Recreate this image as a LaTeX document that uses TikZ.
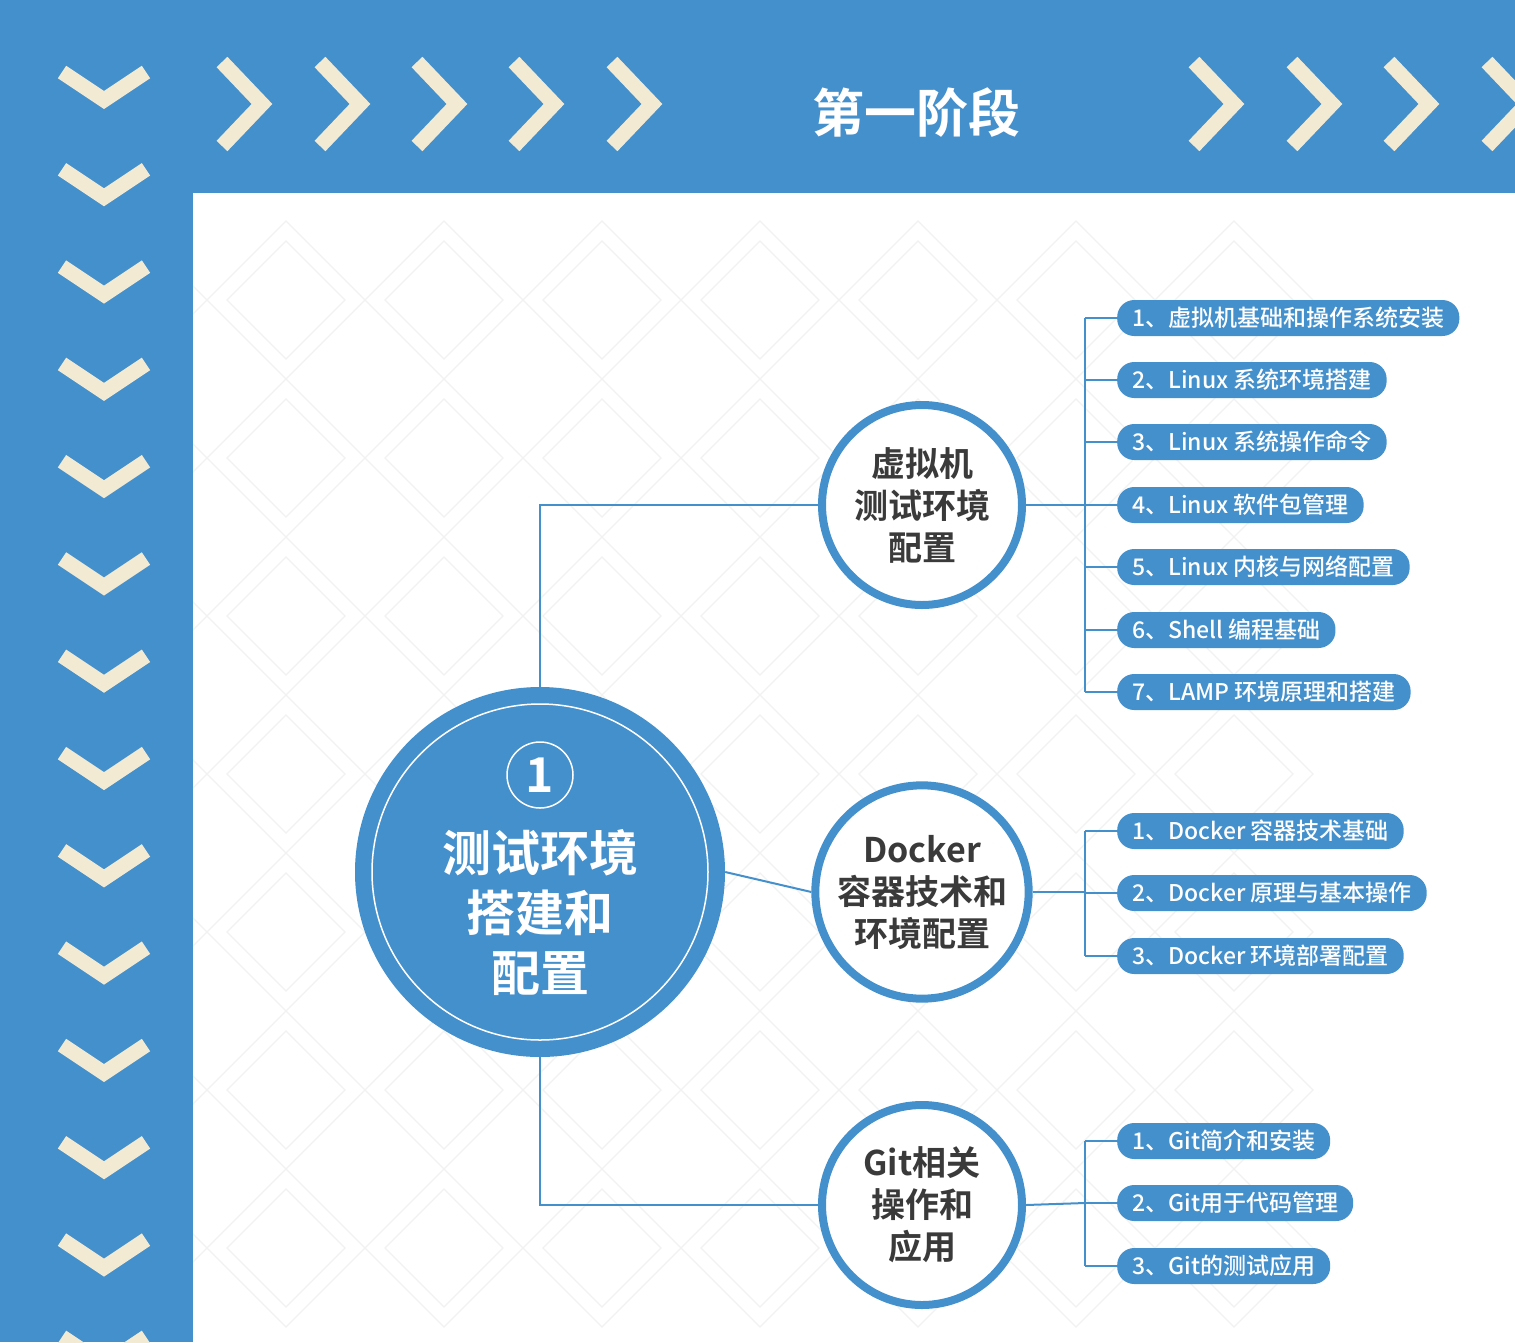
\documentclass[tikz,border=0pt]{standalone}
\usepackage{fontspec}
\setmainfont{Noto Sans CJK SC}
\newfontfamily\cjkb{Noto Sans CJK SC Bold}
\newfontfamily\cjkm{Noto Sans CJK SC Medium}
\definecolor{mblue}{HTML}{4490CC}
\definecolor{cream}{HTML}{F3EAD3}
\definecolor{dgray}{HTML}{3A3A3A}
\begin{document}
\begin{tikzpicture}[x=1pt,y=-1pt,
  chev/.style={cream,line width=15pt,line cap=butt,line join=miter},
  sub/.style={circle,draw=mblue,line width=8pt,fill=white,minimum size=200pt,align=center,text=dgray,font=\cjkb\fontsize{34}{42}\selectfont},
  pill/.style={rounded corners=17pt,fill=mblue,text=white,minimum height=36pt,anchor=west,inner xsep=15pt,font=\cjkm\fontsize{23}{26}\selectfont},
  conn/.style={mblue,line width=2pt}]
\useasboundingbox (0,0) rectangle (1515,1342);
\fill[mblue] (0,0) rectangle (1515,1342);
\fill[white] (193,193) rectangle (1515,1342);
% faint pattern
\begin{scope}
\clip (193,193) rectangle (1515,1342);
\foreach \i in {0,...,7}{\foreach \j in {0,...,6}{
  \draw[black!5,line width=1.2pt] ({128+\i*158},{221+\j*158}) -- ++(79,79) -- ++(-79,79) -- ++(-79,-79) -- cycle;
  \draw[black!5,line width=1.2pt] ({128+\i*158},{241+\j*158}) -- ++(59,59) -- ++(-59,59) -- ++(-59,-59) -- cycle;
}}
\end{scope}
% left chevrons
\foreach \k in {0,...,13}{
  \draw[chev] (62,{72+\k*97.3}) -- (104,{100+\k*97.3}) -- (146,{72+\k*97.3});
}
% top chevrons
\foreach \x in {222,320,417,514,612,1194,1292,1389,1487}{
  \draw[chev] (\x,62) -- (\x+40,104) -- (\x,146);
}
\node[text=white,font=\cjkb\fontsize{52}{60}\selectfont] (title) at (916,113) {第一阶段};
% central
\node[circle,fill=mblue,minimum size=370pt] (c) at (540,872) {};
\draw[white,line width=1.5pt] (c.center) circle (168);
\node[circle,draw=white,line width=1.5pt,minimum size=66pt,text=white,font=\cjkb\fontsize{48}{50}\selectfont,inner sep=0pt] (one) at (540,775) {1};
\node[text=white,align=center,font=\cjkb\fontsize{49}{60}\selectfont] (ct) at (540,913) {测试环境\\搭建和\\配置};
% subs
\node[sub] (s1) at (922,505) {虚拟机\\测试环境\\配置};
\node[sub] (s2) at (922,892) {Docker\\容器技术和\\环境配置};
\node[sub] (s3) at (922,1205) {Git相关\\操作和\\应用};
\draw[conn] (c.north) |- (s1.west);
\draw[conn] (c.east) -- (s2.west);
\draw[conn] (c.south) |- (s3.west);
% pills
\newcommand{\grp}[4]{%
  \coordinate (#1j) at (1085,#2);
  \draw[conn] (#1.east) -- (#1j);
  \foreach \y/\t [count=\n] in {#3}{
    \node[pill] (#1p\n) at (1117,\y) {\t};
    \draw[conn] (1085,\y) -- (#1p\n.west);
  }
  \draw[conn] (1085,#4) -- (#1j);
}
\grp{s1}{505}{318/{1、虚拟机基础和操作系统安装},380/{2、Linux 系统环境搭建},442/{3、Linux 系统操作命令},505/{4、Linux 软件包管理},567/{5、Linux 内核与网络配置},630/{6、Shell 编程基础},692/{7、LAMP 环境原理和搭建}}{318}
\draw[conn] (1085,318) -- (1085,692);
\grp{s2}{892}{831/{1、Docker 容器技术基础},893/{2、Docker 原理与基本操作},956/{3、Docker 环境部署配置}}{831}
\draw[conn] (1085,831) -- (1085,956);
\grp{s3}{1203}{1141/{1、Git简介和安装},1203/{2、Git用于代码管理},1266/{3、Git的测试应用}}{1141}
\draw[conn] (1085,1141) -- (1085,1266);
\end{tikzpicture}
\end{document}
